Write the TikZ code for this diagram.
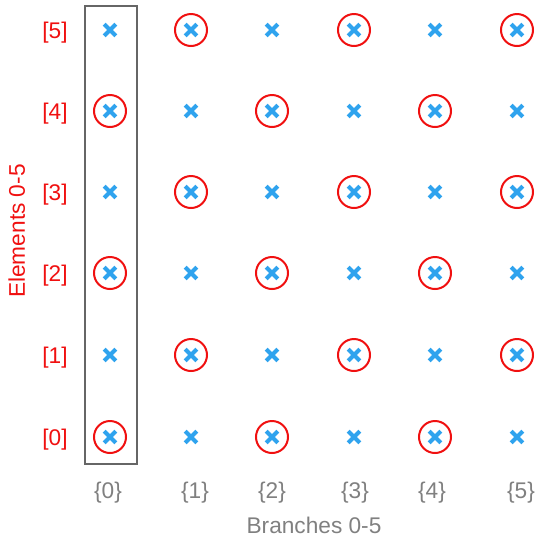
\documentclass[tikz,border=0pt]{standalone}
\usepackage{fontspec}
\setmainfont{Liberation Sans}
\usepackage{xcolor}
\definecolor{markblue}{HTML}{2FA3EE}
\definecolor{labelred}{HTML}{F01010}
\definecolor{axisgray}{HTML}{808080}
\definecolor{boxgray}{HTML}{666666}
\usepackage{tikz}
\usetikzlibrary{shapes.misc}

\begin{document}
\begin{tikzpicture}[
  x=0.75pt, y=-0.75pt,
  font=\fontsize{17}{20}\selectfont,
  xmark/.style={cross out, draw=markblue, line width=3pt, inner sep=0pt,
                minimum size=5.8pt},
  ring/.style={circle, draw=labelred, line width=1.5pt, inner sep=0pt,
               minimum size=24pt},
  rowlab/.style={text=labelred, anchor=base},
  collab/.style={text=axisgray, anchor=base},
  colbox/.style={draw=boxgray, line width=1.5pt}
]
\useasboundingbox (0,0) rectangle (544,537);
\draw[colbox] (85,6) rectangle (137,464);
\foreach \c/\x in {0/110,1/191,2/272,3/354,4/435,5/517}
  \foreach \r/\y in {0/437,1/355,2/273,3/192,4/111,5/30} {
    \node[xmark] (p-\c-\r) at (\x,\y) {};
    \pgfmathparse{int(mod(\c+\r,2))}
    \ifnum\pgfmathresult=0 \node[ring] (o-\c-\r) at (p-\c-\r) {};\fi
  }
\foreach \r/\y in {0/437,1/355,2/273,3/192,4/111,5/30}
  \node[rowlab] (e-\r) at (55,\y+8) {[\r]};
\foreach \c/\x in {0/108,1/195,2/272,3/355,4/432,5/521}
  \node[collab] (b-\c) at (\x,498) {\{\c\}};
\node[collab] (branches) at (314,533) {Branches 0-5};
\node[rowlab, rotate=90] (elements) at (25,231) {Elements 0-5};
\end{tikzpicture}
\end{document}
